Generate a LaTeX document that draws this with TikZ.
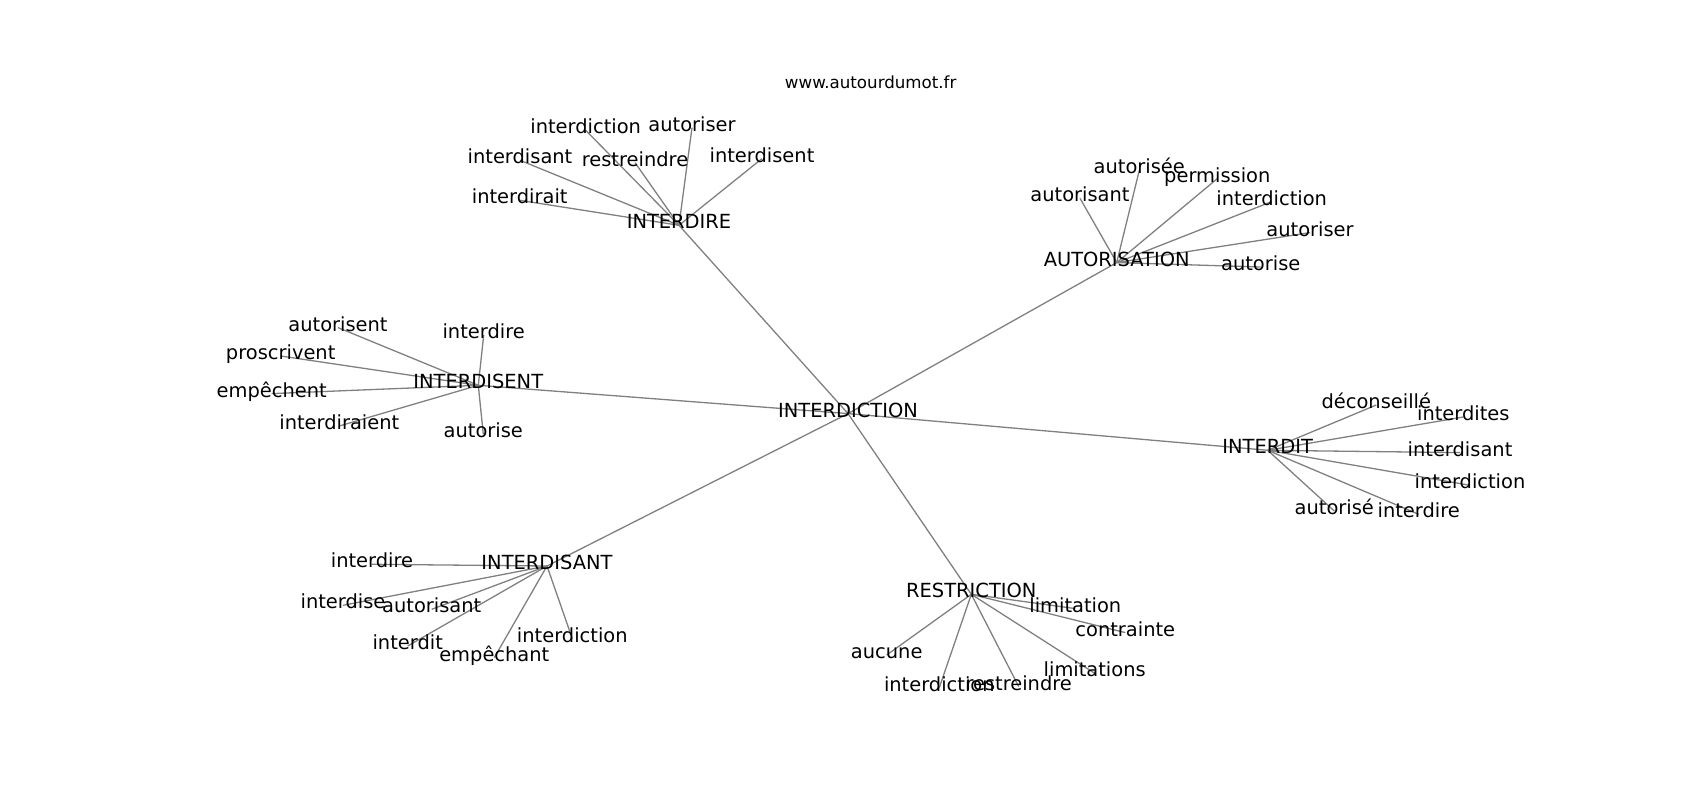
\documentclass[tikz,border=0pt]{standalone}
\usepackage{fontspec}
\setmainfont{DejaVu Sans}
\usetikzlibrary{backgrounds}

\begin{document}
\begin{tikzpicture}[x=1pt, y=-1pt, inner sep=0pt, text height=0.73em, text depth=0pt,
	word/.style={font=\fontsize{19.44}{23}\selectfont},
	site/.style={font=\fontsize{16.67}{20}\selectfont},
	link/.style={draw=gray, line width=1.3pt}]
	\useasboundingbox (0,0) rectangle (1700,800);

	\node [site] (url) at (870.7,85.2) {www.autourdumot.fr};

	\begin{scope}[shift={(0,4.3)}]
	\node [word] (interdiction) at (848,409.3) {INTERDICTION};

	\node [word] (interdire)    at (679,221)     {INTERDIRE};
	\node [word] (ire-diction)  at (585.7,126)   {interdiction};
	\node [word] (ire-autoriser) at (692,123.3)  {autoriser};
	\node [word] (ire-disant)   at (520,156)     {interdisant};
	\node [word] (ire-restreindre) at (635,158.3) {restreindre};
	\node [word] (ire-disent)   at (762,154.3)   {interdisent};
	\node [word] (ire-dirait)   at (519.7,196)   {interdirait};

	\node [word] (autorisation) at (1116.7,258.3) {AUTORISATION};
	\node [word] (ion-autorisee) at (1139.3,166)  {autorisée};
	\node [word] (ion-permission) at (1217.3,174.3) {permission};
	\node [word] (ion-autorisant) at (1080,194)   {autorisant};
	\node [word] (ion-diction)  at (1271.7,197.3) {interdiction};
	\node [word] (ion-autoriser) at (1310,228.3)  {autoriser};
	\node [word] (ion-autorise) at (1260.7,262.7) {autorise};

	\node [word] (interdisent)  at (478.3,381)   {INTERDISENT};
	\node [word] (ent-autorisent) at (338,323.3) {autorisent};
	\node [word] (ent-dire)     at (483.7,330.7) {interdire};
	\node [word] (ent-proscrivent) at (280.7,351.7) {proscrivent};
	\node [word] (ent-empechent) at (271.7,389.3) {empêchent};
	\node [word] (ent-diraient) at (339.3,421.7) {interdiraient};
	\node [word] (ent-autorise) at (483.3,430)   {autorise};

	\node [word] (interdit)     at (1267.7,446)  {INTERDIT};
	\node [word] (dit-deconseille) at (1376.3,400.7) {déconseillé};
	\node [word] (dit-dites)    at (1463.3,412.7) {interdites};
	\node [word] (dit-disant)   at (1460,448.3)  {interdisant};
	\node [word] (dit-diction)  at (1470,481)    {interdiction};
	\node [word] (dit-autorise) at (1334.3,506.7) {autorisé};
	\node [word] (dit-dire)     at (1418.7,510)  {interdire};

	\node [word] (interdisant)  at (547,561.7)   {INTERDISANT};
	\node [word] (ant-dire)     at (372,560)     {interdire};
	\node [word] (ant-dise)     at (343,601)     {interdise};
	\node [word] (ant-autorisant) at (431.7,605) {autorisant};
	\node [word] (ant-dit)      at (407.7,641.7) {interdit};
	\node [word] (ant-empechant) at (494.3,653.3) {empêchant};
	\node [word] (ant-diction)  at (572.3,634.3) {interdiction};

	\node [word] (restriction)  at (971.3,590)   {RESTRICTION};
	\node [word] (res-limitation) at (1075.3,604.3) {limitation};
	\node [word] (res-contrainte) at (1125.3,628.3) {contrainte};
	\node [word] (res-aucune)   at (886.7,650.7) {aucune};
	\node [word] (res-limitations) at (1094.7,669) {limitations};
	\node [word] (res-diction)  at (939.3,683.3) {interdiction};
	\node [word] (res-restreindre) at (1018.7,682.3) {restreindre};
	\end{scope}

	\begin{pgfonlayer}{background}
		\path[link] (interdiction.center) edge (interdire.center);
		\path[link] (interdiction.center) edge (autorisation.center);
		\path[link] (interdiction.center) edge (interdisent.center);
		\path[link] (interdiction.center) edge (interdit.center);
		\path[link] (interdiction.center) edge (interdisant.center);
		\path[link] (interdiction.center) edge (restriction.center);

		\path[link] (interdire.center) edge (ire-diction.center);
		\path[link] (interdire.center) edge (ire-autoriser.center);
		\path[link] (interdire.center) edge (ire-disant.center);
		\path[link] (interdire.center) edge (ire-restreindre.center);
		\path[link] (interdire.center) edge (ire-disent.center);
		\path[link] (interdire.center) edge (ire-dirait.center);

		\path[link] (autorisation.center) edge (ion-autorisee.center);
		\path[link] (autorisation.center) edge (ion-permission.center);
		\path[link] (autorisation.center) edge (ion-autorisant.center);
		\path[link] (autorisation.center) edge (ion-diction.center);
		\path[link] (autorisation.center) edge (ion-autoriser.center);
		\path[link] (autorisation.center) edge (ion-autorise.center);

		\path[link] (interdisent.center) edge (ent-autorisent.center);
		\path[link] (interdisent.center) edge (ent-dire.center);
		\path[link] (interdisent.center) edge (ent-proscrivent.center);
		\path[link] (interdisent.center) edge (ent-empechent.center);
		\path[link] (interdisent.center) edge (ent-diraient.center);
		\path[link] (interdisent.center) edge (ent-autorise.center);

		\path[link] (interdit.center) edge (dit-deconseille.center);
		\path[link] (interdit.center) edge (dit-dites.center);
		\path[link] (interdit.center) edge (dit-disant.center);
		\path[link] (interdit.center) edge (dit-diction.center);
		\path[link] (interdit.center) edge (dit-autorise.center);
		\path[link] (interdit.center) edge (dit-dire.center);

		\path[link] (interdisant.center) edge (ant-dire.center);
		\path[link] (interdisant.center) edge (ant-dise.center);
		\path[link] (interdisant.center) edge (ant-autorisant.center);
		\path[link] (interdisant.center) edge (ant-dit.center);
		\path[link] (interdisant.center) edge (ant-empechant.center);
		\path[link] (interdisant.center) edge (ant-diction.center);

		\path[link] (restriction.center) edge (res-limitation.center);
		\path[link] (restriction.center) edge (res-contrainte.center);
		\path[link] (restriction.center) edge (res-aucune.center);
		\path[link] (restriction.center) edge (res-limitations.center);
		\path[link] (restriction.center) edge (res-diction.center);
		\path[link] (restriction.center) edge (res-restreindre.center);
	\end{pgfonlayer}
\end{tikzpicture}
\end{document}
